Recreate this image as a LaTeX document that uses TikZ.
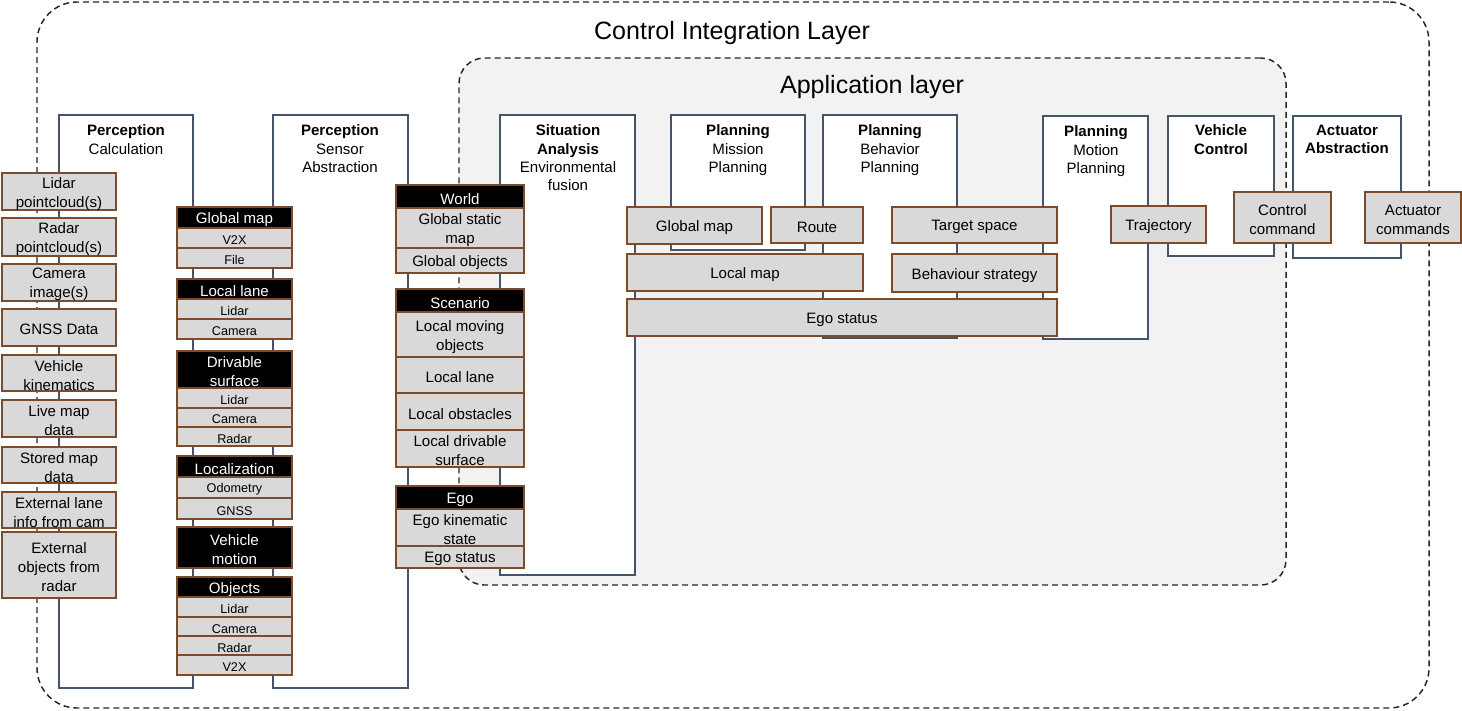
\documentclass[tikz,border=0pt]{standalone}
\usepackage{fontspec}
\setmainfont{Liberation Sans}
\definecolor{framec}{HTML}{44546A}
\definecolor{boxb}{HTML}{7B4B2C}
\definecolor{boxf}{HTML}{D9D9D9}
\definecolor{appf}{HTML}{F2F2F2}
\newcommand{\bx}[7]{\node[#1, minimum width={(#5-#3)*0.75pt}, minimum height={(#6-#4)*0.75pt}] (#2) at ({(#3+#5)/2},{(#4+#6)/2}) {};
 \node[#1, draw=none, fill=none, minimum width=0pt, minimum height=0pt] (#2t) at ([yshift=-1.6pt]#2.center) {#7};}
\begin{document}
\begin{tikzpicture}[x=0.75pt,y=-0.75pt,
 gbox/.style={draw=boxb, fill=boxf, line width=1.3pt, inner sep=0pt, align=center, font=\fontsize{11.3}{14.25}\selectfont},
 hbox/.style={gbox, fill=black, text=white},
 sbox/.style={gbox, font=\fontsize{9.5}{11}\selectfont},
 frame/.style={draw=framec, fill=white, line width=1.1pt, inner sep=0pt},
 ttl/.style={anchor=north, align=center, inner sep=0pt, font=\fontsize{11.3}{13.8}\selectfont},
 outerlayer/.style={draw=black!85, line width=1.1pt, dash pattern=on 4.5pt off 3pt, rounded corners=30pt, inner sep=0pt},
 applayer/.style={draw=black!85, fill=appf, line width=1.1pt, dash pattern=on 4.5pt off 3pt, rounded corners=19pt, inner sep=0pt},
 bigttl/.style={inner sep=0pt, font=\fontsize{18.8}{22}\selectfont}]
\useasboundingbox (0,0) rectangle (1462,710);
% layers
\bx{outerlayer}{outer}{37}{2}{1429}{708}{}
\node[bigttl] (outerttl) at (732,33) {Control Integration Layer};
\bx{applayer}{app}{459}{58}{1286}{585}{}
\node[bigttl] (appttl) at (872,87) {Application layer};
% frames
\bx{frame}{fPC}{59}{115}{193}{688}{}
\bx{frame}{fPS}{273}{115}{408}{688}{}
\bx{frame}{fSA}{500}{115}{635}{575}{}
\bx{frame}{fMP}{671}{115}{805}{250}{}
\bx{frame}{fBP}{823}{115}{957}{338}{}
\bx{frame}{fMo}{1043}{116}{1148}{339}{}
\bx{frame}{fVC}{1168}{116}{1274}{256}{}
\bx{frame}{fAA}{1293}{116}{1401}{258}{}
% titles
\node[ttl] (tPC) at (126,124.5) {\textbf{Perception}\\Calculation};
\node[ttl] (tPS) at (340,124.5) {\textbf{Perception}\\Sensor\\Abstraction};
\node[ttl] (tSA) at (568,124.5) {\textbf{Situation}\\\textbf{Analysis}\\Environmental\\fusion};
\node[ttl] (tMP) at (738,124.5) {\textbf{Planning}\\Mission\\Planning};
\node[ttl] (tBP) at (890,124.5) {\textbf{Planning}\\Behavior\\Planning};
\node[ttl] (tMo) at (1096,125.5) {\textbf{Planning}\\Motion\\Planning};
\node[ttl] (tVC) at (1221,124.5) {\textbf{Vehicle}\\\textbf{Control}};
\node[ttl] (tAA) at (1347,124.5) {\textbf{Actuator}\\\textbf{Abstraction}};
% input column
\bx{gbox}{in1}{2}{173}{116}{210}{Lidar\\pointcloud(s)}
\bx{gbox}{in2}{2}{218}{116}{256}{Radar\\pointcloud(s)}
\bx{gbox}{in3}{2}{264}{116}{301}{Camera\\image(s)}
\bx{gbox}{in4}{2}{309}{116}{346}{GNSS Data}
\bx{gbox}{in5}{2}{355}{116}{391}{Vehicle\\kinematics}
\bx{gbox}{in6}{2}{400}{116}{437}{Live map\\data}
\bx{gbox}{in7}{2}{447}{116}{483}{Stored map\\data}
\bx{gbox}{in8}{2}{492}{116}{528}{External lane\\info from cam}
\bx{gbox}{in9}{2}{532}{116}{598}{External\\objects from\\radar}
% perception calculation outputs
\bx{hbox}{gm}{177}{207}{292}{228}{Global map}
\bx{sbox}{gmv}{177}{228}{292}{248}{V2X}
\bx{sbox}{gmf}{177}{248}{292}{268}{File}
\bx{hbox}{ll}{177}{279}{292}{299}{Local lane}
\bx{sbox}{lll}{177}{299}{292}{319}{Lidar}
\bx{sbox}{llc}{177}{319}{292}{339}{Camera}
\bx{hbox}{ds}{177}{351}{292}{388}{Drivable\\surface}
\bx{sbox}{dsl}{177}{388}{292}{408}{Lidar}
\bx{sbox}{dsc}{177}{408}{292}{427}{Camera}
\bx{sbox}{dsr}{177}{427}{292}{446}{Radar}
\bx{hbox}{loc}{177}{456}{292}{477}{Localization}
\bx{sbox}{loco}{177}{477}{292}{498}{Odometry}
\bx{sbox}{locg}{177}{498}{292}{519}{GNSS}
\bx{hbox}{vm}{177}{527}{292}{568}{Vehicle\\motion}
\bx{hbox}{obj}{177}{577}{292}{597}{Objects}
\bx{sbox}{objl}{177}{597}{292}{617}{Lidar}
\bx{sbox}{objc}{177}{617}{292}{636}{Camera}
\bx{sbox}{objr}{177}{636}{292}{655}{Radar}
\bx{sbox}{objv}{177}{655}{292}{675}{V2X}
% sensor abstraction outputs
\bx{hbox}{world}{396}{185}{524}{208}{World}
\bx{gbox}{gsm}{396}{208}{524}{248}{Global static\\map}
\bx{gbox}{gob}{396}{248}{524}{273}{Global objects}
\bx{hbox}{scen}{396}{289}{524}{312}{Scenario}
\bx{gbox}{lmo}{396}{312}{524}{357}{Local moving\\objects}
\bx{gbox}{lla}{396}{357}{524}{393}{Local lane}
\bx{gbox}{lob}{396}{393}{524}{430}{Local obstacles}
\bx{gbox}{lds}{396}{430}{524}{467}{Local drivable\\surface}
\bx{hbox}{ego}{396}{486}{524}{509}{Ego}
\bx{gbox}{eks}{396}{509}{524}{546}{Ego kinematic\\state}
\bx{gbox}{est}{396}{546}{524}{568}{Ego status}
% application boxes
\bx{gbox}{agm}{627}{207}{762}{244}{Global map}
\bx{gbox}{route}{771}{207}{863}{243}{Route}
\bx{gbox}{tsp}{892}{207}{1057}{243}{Target space}
\bx{gbox}{lmap}{627}{254}{863}{291}{Local map}
\bx{gbox}{bst}{892}{254}{1057}{292}{Behaviour strategy}
\bx{gbox}{aego}{627}{299}{1057}{336}{Ego status}
\bx{gbox}{traj}{1111}{206}{1206}{243}{Trajectory}
\bx{gbox}{ccmd}{1234}{192}{1331}{243}{Control\\command}
\bx{gbox}{acmd}{1365}{192}{1461}{243}{Actuator\\commands}
\end{tikzpicture}
\end{document}
